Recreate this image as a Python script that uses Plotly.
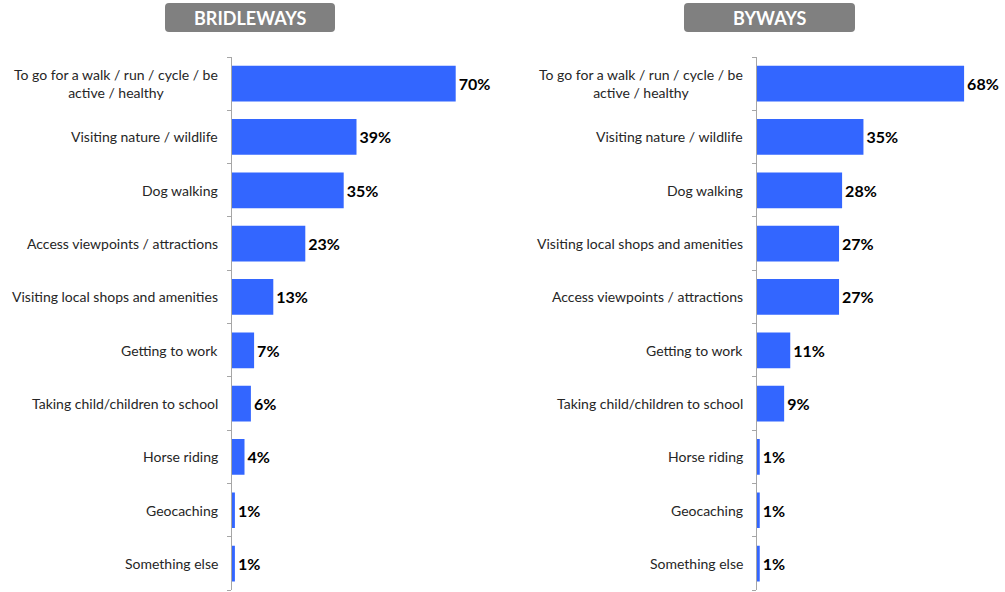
import plotly.graph_objects as go

categories_left = [
    "To go for a walk / run / cycle / be<br>active / healthy",
    "Visiting nature / wildlife",
    "Dog walking",
    "Access viewpoints / attractions",
    "Visiting local shops and amenities",
    "Getting to work",
    "Taking child/children to school",
    "Horse riding",
    "Geocaching",
    "Something else",
]
values_left = [70, 39, 35, 23, 13, 7, 6, 4, 1, 1]

categories_right = [
    "To go for a walk / run / cycle / be<br>active / healthy",
    "Visiting nature / wildlife",
    "Dog walking",
    "Visiting local shops and amenities",
    "Access viewpoints / attractions",
    "Getting to work",
    "Taking child/children to school",
    "Horse riding",
    "Geocaching",
    "Something else",
]
values_right = [68, 35, 28, 27, 27, 11, 9, 1, 1, 1]

titles = ["BRIDLEWAYS", "BYWAYS"]

W, H = 1005, 592
BAR = "#3366FF"
AXC = "#A6A6A6"
TXT = "#262626"
FONT = "Lato"

left_x0 = 231.7
right_x0 = 756.7
xmax = 80
left_w = 3.2 * xmax
ytop = 57

fig = go.Figure()
fig.add_trace(go.Bar(
    x=values_left, y=list(range(len(categories_left))), orientation="h",
    marker=dict(color=BAR, line=dict(width=0)),
    texttemplate="%{x}%", textposition="outside", cliponaxis=False,
    textfont=dict(family=FONT, size=16, color="#000000", weight="bold"),
    xaxis="x", yaxis="y", width=0.67, hoverinfo="skip",
))
fig.add_trace(go.Bar(
    x=values_right, y=list(range(len(categories_right))), orientation="h",
    marker=dict(color=BAR, line=dict(width=0)),
    texttemplate="%{x}%", textposition="outside", cliponaxis=False,
    textfont=dict(family=FONT, size=16, color="#000000", weight="bold"),
    xaxis="x2", yaxis="y2", width=0.67, hoverinfo="skip",
))

ydom = [0.003, 1 - ytop / H]
xdom1 = [left_x0 / W, (left_x0 + left_w) / W]
xdom2 = [right_x0 / W, 1.0]
r2 = (W - right_x0) / 3.05

yax_common = dict(
    range=[9.5, -0.5], showgrid=False, zeroline=False,
    showline=True, linecolor=AXC, linewidth=1,
    tickvals=[i - 0.5 for i in range(11)], ticktext=[""] * 11,
    ticks="outside", ticklen=4, tickcolor=AXC, tickwidth=1,
    showticklabels=False,
)
fig.update_layout(
    width=W, height=H,
    margin=dict(l=0, r=0, t=0, b=0),
    paper_bgcolor="white", plot_bgcolor="white",
    showlegend=False,
    xaxis=dict(domain=xdom1, range=[0, xmax], visible=False, fixedrange=True),
    xaxis2=dict(domain=xdom2, range=[0, r2], visible=False, fixedrange=True),
    yaxis=dict(domain=ydom, anchor="x", **yax_common),
    yaxis2=dict(domain=ydom, anchor="x2", **yax_common),
    font=dict(family=FONT, color=TXT),
)

annotations = []
for cats, yref, x0 in [(categories_left, "y", left_x0), (categories_right, "y2", right_x0)]:
    for i, c in enumerate(cats):
        annotations.append(dict(
            x=(x0 - 12) / W, xref="paper", y=i, yref=yref,
            text=c, showarrow=False, xanchor="right", yanchor="middle",
            align="center", font=dict(family=FONT, size=14, color=TXT),
        ))

def rounded_rect(x0, y0, x1, y1, r):
    def px(x):
        return x / W
    def py(y):
        return 1 - y / H
    return (f"M {px(x0 + r)},{py(y0)} L {px(x1 - r)},{py(y0)} "
            f"Q {px(x1)},{py(y0)} {px(x1)},{py(y0 + r)} "
            f"L {px(x1)},{py(y1 - r)} Q {px(x1)},{py(y1)} {px(x1 - r)},{py(y1)} "
            f"L {px(x0 + r)},{py(y1)} Q {px(x0)},{py(y1)} {px(x0)},{py(y1 - r)} "
            f"L {px(x0)},{py(y0 + r)} Q {px(x0)},{py(y0)} {px(x0 + r)},{py(y0)} Z")

shapes = []
for title, (bx0, bx1) in zip(titles, [(165, 335), (684, 855)]):
    shapes.append(dict(type="path", xref="paper", yref="paper",
                       path=rounded_rect(bx0, 3, bx1, 32, 4),
                       fillcolor="#808080", line=dict(width=0)))
    annotations.append(dict(
        x=(bx0 + bx1) / 2 / W, xref="paper", y=1 - 17.5 / H, yref="paper",
        text=title, showarrow=False, xanchor="center", yanchor="middle",
        font=dict(family=FONT, size=18, color="white", weight="bold"),
    ))

fig.update_layout(annotations=annotations, shapes=shapes)
fig.write_html(
    "out.html",
    config={"displayModeBar": False, "staticPlot": True},
    post_script="document.body.style.margin='0';document.body.style.overflow='hidden';",
)
